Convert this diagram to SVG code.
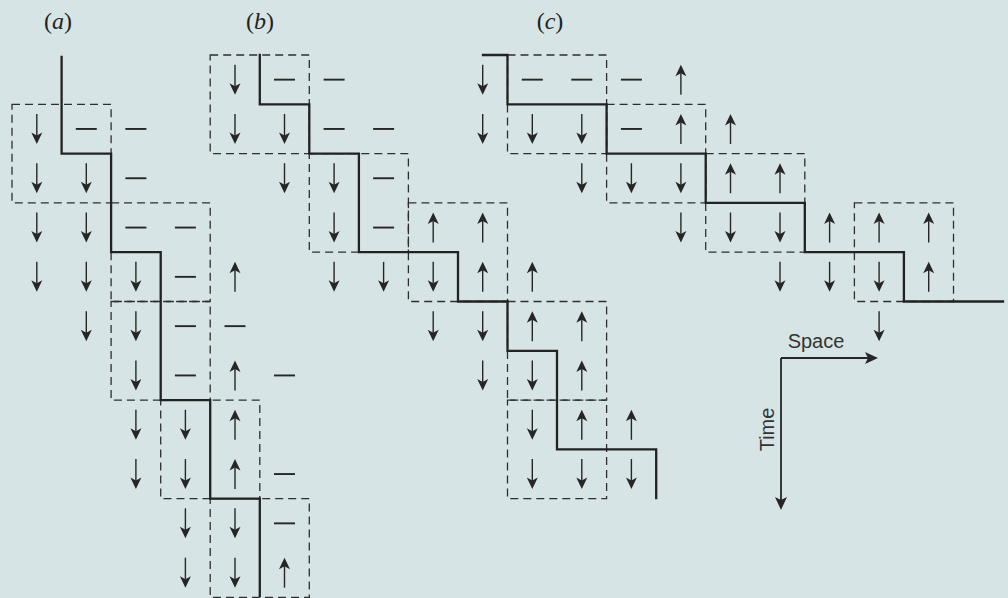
<svg xmlns="http://www.w3.org/2000/svg" width="1008" height="598" viewBox="0 0 1008 598">
<style>
.ink{stroke:#262626;fill:none}
.box{stroke:#2e2e2e;stroke-width:1.3;fill:none;stroke-dasharray:8 5}
.wall{stroke:#222;stroke-width:2.3;fill:none;stroke-linejoin:miter;stroke-linecap:square}
.lbl{font-family:"Liberation Serif",serif;font-size:24px;fill:#222}
.ax{font-family:"Liberation Sans",Arial,sans-serif;font-size:20px;fill:#333}
</style>
<defs>
<g id="dn"><line x1="0" y1="-15" x2="0" y2="7" stroke="#262626" stroke-width="1.4"/><path d="M0,15 L-5.5,3.5 L0,6.5 L5.5,3.5 Z" fill="#262626"/></g>
<g id="up"><line x1="0" y1="15" x2="0" y2="-7" stroke="#262626" stroke-width="1.4"/><path d="M0,-15 L-5.5,-3.5 L0,-6.5 L5.5,-3.5 Z" fill="#262626"/></g>
<line id="ds" x1="-10.5" y1="0" x2="10.5" y2="0" stroke="#262626" stroke-width="1.9"/>
</defs>
<rect x="0" y="0" width="1008" height="598" fill="#d7e4e5"/>

<g id="labels">
<text class="lbl" x="58" y="29" text-anchor="middle">(<tspan font-style="italic">a</tspan>)</text>
<text class="lbl" x="260" y="29" text-anchor="middle">(<tspan font-style="italic">b</tspan>)</text>
<text class="lbl" x="550" y="29" text-anchor="middle">(<tspan font-style="italic">c</tspan>)</text>
</g>

<g id="panel-a">
<g id="a-boxes">
<rect class="box" x="12" y="104.3" width="99.1" height="98.6"/>
<rect class="box" x="111.1" y="202.9" width="99.1" height="98.6"/>
<rect class="box" x="111.1" y="301.5" width="99.1" height="98.6"/>
<rect class="box" x="160.7" y="400.1" width="99.1" height="98.6"/>
<rect class="box" x="210.2" y="498.7" width="99.1" height="98.6"/>
</g>
<path class="wall" d="M61.6,57 V153.6 H111.1 V252.2 H160.7 V400.1 H210.2 V498.7 H259.8 V596"/>
<g id="a-spins">
<use href="#dn" x="36.8" y="128.95"/><use href="#ds" x="86.3" y="128.95"/><use href="#ds" x="135.9" y="128.95"/>
<use href="#dn" x="36.8" y="178.25"/><use href="#dn" x="86.3" y="178.25"/><use href="#ds" x="135.9" y="178.25"/>
<use href="#dn" x="36.8" y="227.55"/><use href="#dn" x="86.3" y="227.55"/><use href="#ds" x="135.9" y="227.55"/><use href="#ds" x="185.4" y="227.55"/>
<use href="#dn" x="36.8" y="276.85"/><use href="#dn" x="86.3" y="276.85"/><use href="#dn" x="135.9" y="276.85"/><use href="#ds" x="185.4" y="276.85"/><use href="#up" x="235" y="276.85"/>
<use href="#dn" x="86.3" y="326.15"/><use href="#dn" x="135.9" y="326.15"/><use href="#ds" x="185.4" y="326.15"/><use href="#ds" x="235" y="326.15"/>
<use href="#dn" x="135.9" y="375.45"/><use href="#ds" x="185.4" y="375.45"/><use href="#up" x="235" y="375.45"/><use href="#ds" x="284.5" y="375.45"/>
<use href="#dn" x="135.9" y="424.75"/><use href="#dn" x="185.4" y="424.75"/><use href="#up" x="235" y="424.75"/>
<use href="#dn" x="135.9" y="474.05"/><use href="#dn" x="185.4" y="474.05"/><use href="#up" x="235" y="474.05"/><use href="#ds" x="284.5" y="474.05"/>
<use href="#dn" x="185.4" y="523.35"/><use href="#dn" x="235" y="523.35"/><use href="#ds" x="284.5" y="523.35"/>
<use href="#dn" x="185.4" y="572.65"/><use href="#dn" x="235" y="572.65"/><use href="#up" x="284.5" y="572.65"/>
</g>
</g>

<g id="panel-b">
<g id="b-boxes">
<rect class="box" x="210.2" y="55" width="99.1" height="98.6"/>
<rect class="box" x="309.3" y="153.6" width="99.1" height="98.6"/>
<rect class="box" x="408.4" y="202.9" width="99.1" height="98.6"/>
<rect class="box" x="507.5" y="301.5" width="99.1" height="98.6"/>
<rect class="box" x="507.5" y="400.1" width="99.1" height="98.6"/>
</g>
<path class="wall" d="M259.8,55 V104.3 H309.3 V153.6 H358.9 V252.2 H458 V301.5 H507.5 V350.8 H557 V449.4 H656.2 V498"/>
<g id="b-spins">
<use href="#dn" x="235" y="79.65"/><use href="#ds" x="284.5" y="79.65"/><use href="#ds" x="334.1" y="79.65"/>
<use href="#dn" x="235" y="128.95"/><use href="#dn" x="284.5" y="128.95"/><use href="#ds" x="334.1" y="128.95"/><use href="#ds" x="383.6" y="128.95"/>
<use href="#dn" x="284.5" y="178.25"/><use href="#dn" x="334.1" y="178.25"/><use href="#ds" x="383.6" y="178.25"/>
<use href="#dn" x="334.1" y="227.55"/><use href="#ds" x="383.6" y="227.55"/><use href="#up" x="433.2" y="227.55"/><use href="#up" x="482.7" y="227.55"/>
<use href="#dn" x="334.1" y="276.85"/><use href="#dn" x="383.6" y="276.85"/><use href="#dn" x="433.2" y="276.85"/><use href="#up" x="482.7" y="276.85"/><use href="#up" x="532.3" y="276.85"/>
<use href="#dn" x="433.2" y="326.15"/><use href="#dn" x="482.7" y="326.15"/><use href="#up" x="532.3" y="326.15"/><use href="#up" x="581.8" y="326.15"/>
<use href="#dn" x="482.7" y="375.45"/><use href="#dn" x="532.3" y="375.45"/><use href="#up" x="581.8" y="375.45"/>
<use href="#dn" x="532.3" y="424.75"/><use href="#up" x="581.8" y="424.75"/><use href="#up" x="631.4" y="424.75"/>
<use href="#dn" x="532.3" y="474.05"/><use href="#dn" x="581.8" y="474.05"/><use href="#dn" x="631.4" y="474.05"/>
</g>
</g>

<g id="panel-c">
<g id="c-boxes">
<rect class="box" x="507.5" y="55" width="99.1" height="98.6"/>
<rect class="box" x="606.6" y="104.3" width="99.1" height="98.6"/>
<rect class="box" x="705.7" y="153.6" width="99.1" height="98.6"/>
<rect class="box" x="854.4" y="202.9" width="99.1" height="98.6"/>
</g>
<path class="wall" d="M483,55 H507.5 V104.3 H606.6 V153.6 H705.7 V202.9 H804.8 V252.2 H903.9 V301.5 H1003"/>
<g id="c-spins">
<use href="#dn" x="482.7" y="79.65"/><use href="#ds" x="532.3" y="79.65"/><use href="#ds" x="581.8" y="79.65"/><use href="#ds" x="631.4" y="79.65"/><use href="#up" x="680.9" y="79.65"/>
<use href="#dn" x="482.7" y="128.95"/><use href="#dn" x="532.3" y="128.95"/><use href="#dn" x="581.8" y="128.95"/><use href="#ds" x="631.4" y="128.95"/><use href="#up" x="680.9" y="128.95"/><use href="#up" x="730.5" y="128.95"/>
<use href="#dn" x="581.8" y="178.25"/><use href="#dn" x="631.4" y="178.25"/><use href="#dn" x="680.9" y="178.25"/><use href="#up" x="730.5" y="178.25"/><use href="#up" x="780" y="178.25"/>
<use href="#dn" x="680.9" y="227.55"/><use href="#dn" x="730.5" y="227.55"/><use href="#dn" x="780" y="227.55"/><use href="#up" x="829.6" y="227.55"/><use href="#up" x="879.1" y="227.55"/><use href="#up" x="928.7" y="227.55"/>
<use href="#dn" x="780" y="276.85"/><use href="#dn" x="829.6" y="276.85"/><use href="#dn" x="879.1" y="276.85"/><use href="#up" x="928.7" y="276.85"/>
<use href="#dn" x="879.1" y="326.15"/>
</g>
</g>

<g id="axes">
<path d="M781,358 H868 M781,358 V500" stroke="#262626" stroke-width="1.8" fill="none"/>
<path d="M878,358 L865,352 L868,358 L865,364 Z" fill="#262626"/>
<path d="M781,510 L775,497 L781,500 L787,497 Z" fill="#262626"/>
<text class="ax" x="816" y="348" text-anchor="middle">Space</text>
<text class="ax" transform="translate(774,429.5) rotate(-90)" text-anchor="middle">Time</text>
</g>
</svg>
